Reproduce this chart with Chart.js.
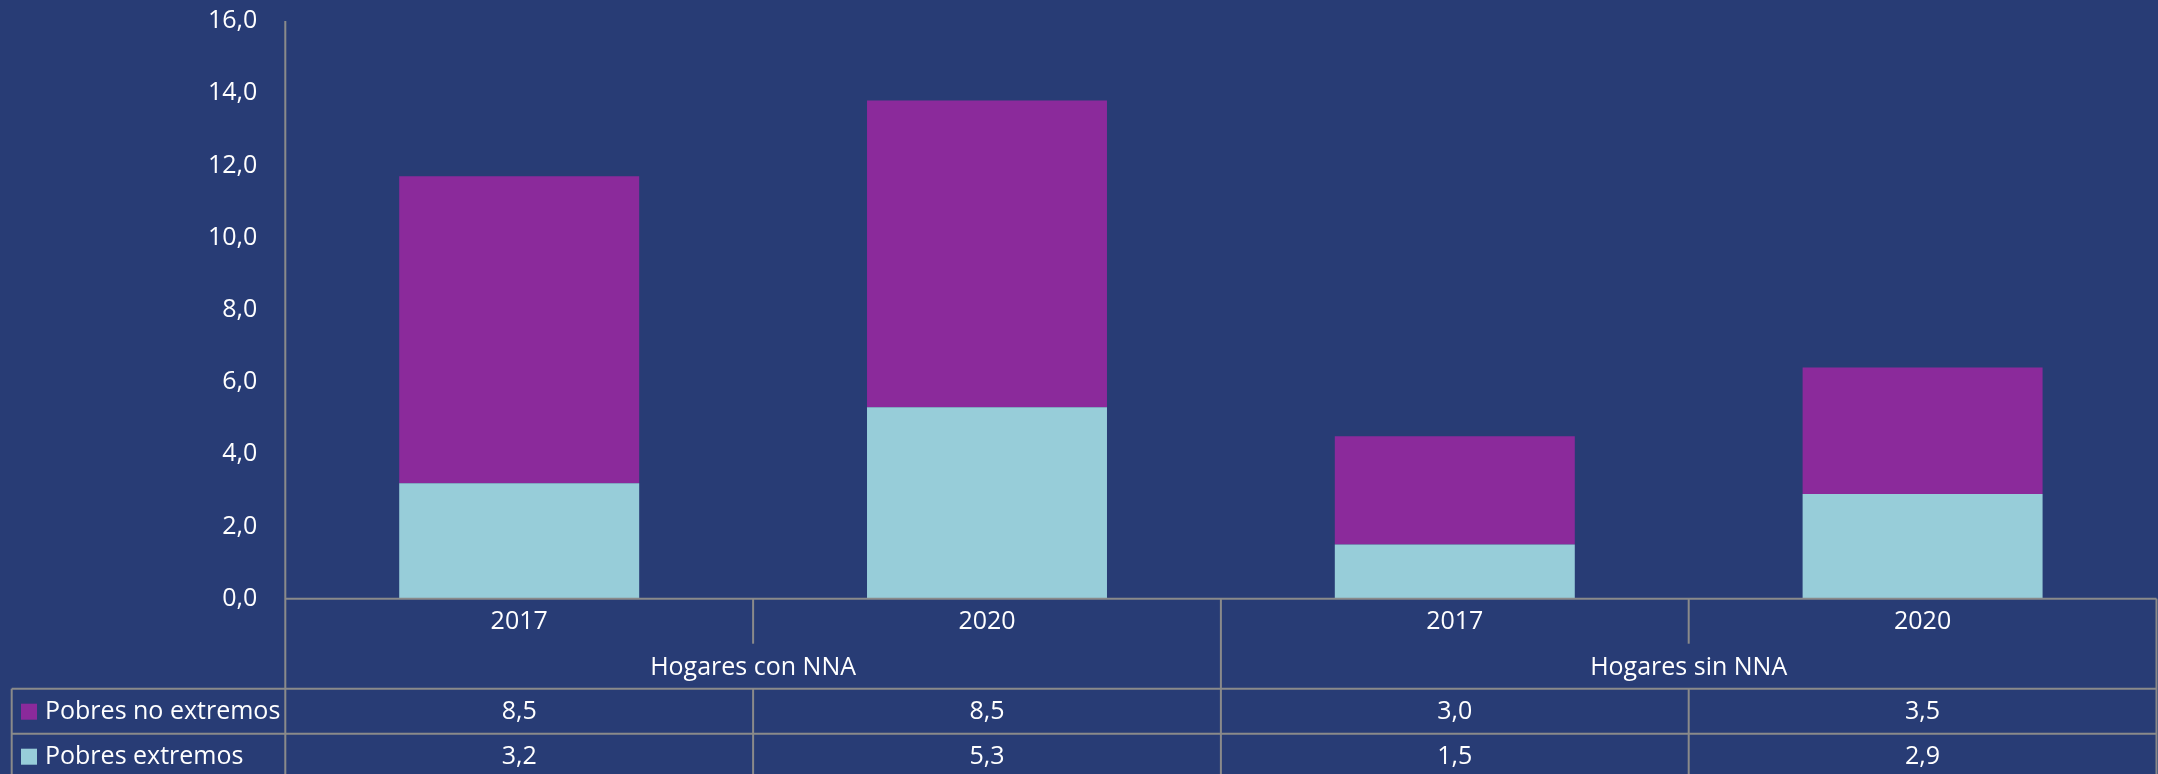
<!DOCTYPE html>
<html>
<head>
<meta charset="utf-8">
<script src="https://cdn.jsdelivr.net/npm/chart.js@4"></script>
<style>
  html, body { margin: 0; padding: 0; background: #283c75; }
  #wrap { width: 2158px; height: 774px; }
</style>
</head>
<body>
<div id="wrap"><canvas id="chart" width="2158" height="774"></canvas></div>
<script>
const years = ["2017", "2020", "2017", "2020"];
const groups = ["Hogares con NNA", "Hogares sin NNA"];
const seriesNames = ["Pobres no extremos", "Pobres extremos"];
const pobresNoExtremos = [8.5, 8.5, 3.0, 3.5];
const pobresExtremos = [3.2, 5.3, 1.5, 2.9];
const yMin = 0, yMax = 16, yStep = 2;

const BG = "#283c75";
const PURPLE = "#8b2a9b";
const LIGHTBLUE = "#97cdd9";
const LINE = "#8a8a8a";
const FONT = "'Open Sans', sans-serif";

const fmt = (v) => v.toFixed(1).replace(".", ",");

// draws background, axis line and the data table below the plot
const tablePlugin = {
  id: "table",
  beforeDraw(chart) {
    const ctx = chart.ctx;
    ctx.save();
    ctx.fillStyle = BG;
    ctx.fillRect(0, 0, chart.width, chart.height);
    ctx.restore();
  },
  afterDraw(chart) {
    const ctx = chart.ctx;
    const area = chart.chartArea;
    const x = chart.scales.x;
    const H = chart.height;
    const catW = (area.right - area.left) / years.length;
    const yearBottom = area.bottom + 45;
    const groupBottom = area.bottom + 90;
    const row1Bottom = groupBottom + 45;
    const legLeft = 11.7;

    ctx.save();
    ctx.strokeStyle = LINE;
    ctx.lineWidth = 2;
    const line = (x1, y1, x2, y2) => {
      ctx.beginPath(); ctx.moveTo(x1, y1); ctx.lineTo(x2, y2); ctx.stroke();
    };
    // y axis line
    line(area.left, area.top, area.left, H);
    // horizontal lines
    line(area.left, area.bottom, area.right, area.bottom);
    line(legLeft, groupBottom, area.right, groupBottom);
    line(legLeft, row1Bottom, area.right, row1Bottom);
    // outer verticals
    line(legLeft, groupBottom, legLeft, H);
    line(area.right, area.bottom, area.right, H);
    // separators
    for (let i = 1; i < years.length; i++) {
      const sx = area.left + i * catW;
      if (i % 2 === 0) {
        line(sx, area.bottom, sx, H);
      } else {
        line(sx, area.bottom, sx, yearBottom);
        line(sx, groupBottom, sx, H);
      }
    }

    ctx.fillStyle = "#ffffff";
    ctx.font = "25px " + FONT;
    ctx.textAlign = "center";
    ctx.textBaseline = "middle";
    years.forEach((y, i) => {
      ctx.fillText(y, x.getPixelForValue(i), area.bottom + 23);
    });
    groups.forEach((g, i) => {
      const gx = area.left + (i * 2 + 1) * catW;
      ctx.fillText(g, gx, yearBottom + 24);
    });
    const rows = [pobresNoExtremos, pobresExtremos];
    const rowY = [groupBottom + 23, row1Bottom + 23];
    rows.forEach((vals, r) => {
      vals.forEach((v, i) => {
        ctx.fillText(fmt(v), x.getPixelForValue(i), rowY[r]);
      });
    });
    // legend keys
    const keyColors = [PURPLE, LIGHTBLUE];
    ctx.textAlign = "left";
    seriesNames.forEach((name, r) => {
      ctx.fillStyle = keyColors[r];
      ctx.fillRect(21, rowY[r] - 8, 16, 16);
      ctx.fillStyle = "#ffffff";
      ctx.fillText(name, 45, rowY[r]);
    });
    ctx.restore();
  }
};

new Chart(document.getElementById("chart"), {
  type: "bar",
  data: {
    labels: years,
    datasets: [
      {
        label: seriesNames[1],
        data: pobresExtremos,
        backgroundColor: LIGHTBLUE,
        barPercentage: 0.513,
        categoryPercentage: 1
      },
      {
        label: seriesNames[0],
        data: pobresNoExtremos,
        backgroundColor: PURPLE,
        barPercentage: 0.513,
        categoryPercentage: 1
      }
    ]
  },
  options: {
    responsive: false,
    animation: false,
    layout: { padding: { top: 21, bottom: 175.3, left: 0, right: 1.5 } },
    plugins: {
      legend: { display: false },
      tooltip: { enabled: false }
    },
    scales: {
      x: { stacked: true, display: false },
      y: {
        stacked: true,
        min: yMin,
        max: yMax,
        grid: { display: false },
        border: { display: false },
        ticks: {
          stepSize: yStep,
          color: "#ffffff",
          font: { family: FONT, size: 25 },
          padding: 20,
          callback: (v) => fmt(v)
        },
        afterFit: (s) => { s.width = 285.3; s.paddingTop = 0; s.paddingBottom = 0; }
      }
    }
  },
  plugins: [tablePlugin]
});
</script>
</body>
</html>
